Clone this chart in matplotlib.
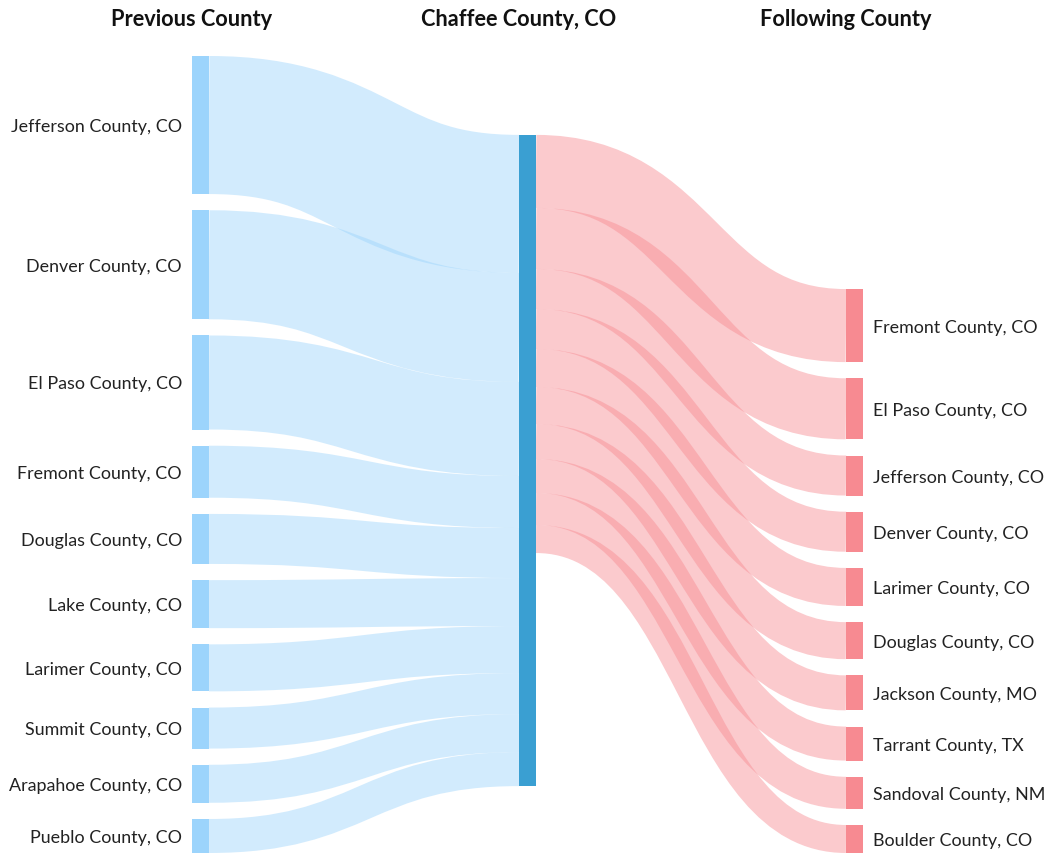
import matplotlib
matplotlib.use("Agg")
import matplotlib.pyplot as plt
from matplotlib.path import Path
from matplotlib.patches import PathPatch, Rectangle

plt.rcParams["font.family"] = ["Lato", "DejaVu Sans"]

# data
center_name = "Chaffee County, CO"
prev_counties = ["Jefferson County, CO", "Denver County, CO", "El Paso County, CO",
                 "Fremont County, CO", "Douglas County, CO", "Lake County, CO",
                 "Larimer County, CO", "Summit County, CO", "Arapahoe County, CO",
                 "Pueblo County, CO"]
prev_values = [138, 109, 94, 52, 50, 48, 47, 41, 38, 34]
next_counties = ["Fremont County, CO", "El Paso County, CO", "Jefferson County, CO",
                 "Denver County, CO", "Larimer County, CO", "Douglas County, CO",
                 "Jackson County, MO", "Tarrant County, TX", "Sandoval County, NM",
                 "Boulder County, CO"]
next_values = [73, 61, 40, 40, 38, 37, 35, 34, 32, 28]
titles = ["Previous County", center_name, "Following County"]

# layout (pixel space)
W, H = 1047, 855
Y0, Y1 = 56, 853
GAP = 16.2
NODE_W = 17
COL_X = [192, 519, 846]
LEFT_C, CENTER_C, RIGHT_C = "#9cd4fc", "#3a9fd2", "#f78a91"
FLOW_ALPHA = 0.45

k = (Y1 - Y0 - (len(prev_values) - 1) * GAP) / sum(prev_values)


def stack(values, top):
    out, y = [], top
    for v in values:
        out.append((y, y + v * k))
        y += v * k + GAP
    return out


left_nodes = stack(prev_values, Y0)
right_h = sum(next_values) * k + (len(next_values) - 1) * GAP
right_nodes = stack(next_values, Y1 - right_h)
center_h = max(sum(prev_values), sum(next_values)) * k
center_top = Y0 + (Y1 - Y0 - center_h) / 2 + 6


def flow(ax, x0, ya, x1, yb, width, color):
    # link drawn as a thick stroke along a horizontal bezier (like d3 sankey)
    xm = (x0 + x1) / 2
    path = Path([(x0, ya), (xm, ya), (xm, yb), (x1, yb)],
                [Path.MOVETO, Path.CURVE4, Path.CURVE4, Path.CURVE4])
    ax.add_patch(PathPatch(path, fill=False, edgecolor=matplotlib.colors.to_rgba(color, FLOW_ALPHA),
                           linewidth=width * 72 / 100, capstyle="butt", zorder=1))


fig = plt.figure(figsize=(W / 100, H / 100), dpi=100)
ax = fig.add_axes([0, 0, 1, 1])
ax.set_xlim(0, W)
ax.set_ylim(H, 0)
ax.axis("off")

# incoming flows
y = center_top
for (t, b), v in zip(left_nodes, prev_values):
    flow(ax, COL_X[0] + NODE_W, (t + b) / 2, COL_X[1], y + v * k / 2, v * k, LEFT_C)
    y += v * k

# outgoing flows
y = center_top
for (t, b), v in zip(right_nodes, next_values):
    flow(ax, COL_X[1] + NODE_W, y + v * k / 2, COL_X[2], (t + b) / 2, v * k, RIGHT_C)
    y += v * k

# nodes + labels
for (t, b), name in zip(left_nodes, prev_counties):
    ax.add_patch(Rectangle((COL_X[0], t), NODE_W, b - t, color=LEFT_C, lw=0, zorder=2))
    ax.text(COL_X[0] - 10, (t + b) / 2 + 2, name, ha="right", va="center",
            fontsize=12.9, color="#222222")
for (t, b), name in zip(right_nodes, next_counties):
    ax.add_patch(Rectangle((COL_X[2], t), NODE_W, b - t, color=RIGHT_C, lw=0, zorder=2))
    ax.text(COL_X[2] + NODE_W + 10, (t + b) / 2 + 2, name, ha="left", va="center",
            fontsize=12.9, color="#222222")
ax.add_patch(Rectangle((COL_X[1], center_top), NODE_W, center_h, color=CENTER_C, lw=0, zorder=2))

for x, title in zip(COL_X, titles):
    ax.text(x, 20, title, ha="center", va="center", fontsize=15.7,
            fontweight="bold", color="#111111")

fig.savefig("out.png", dpi=100)
